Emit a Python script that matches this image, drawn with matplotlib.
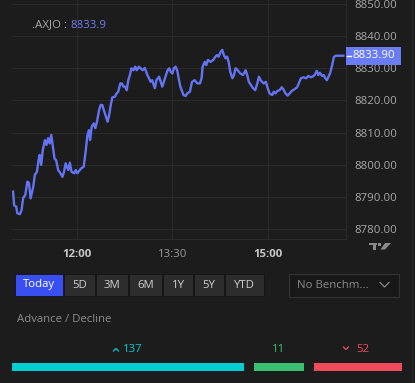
import matplotlib
matplotlib.use("Agg")
import matplotlib.pyplot as plt
from matplotlib.patches import Rectangle, Polygon
from matplotlib.transforms import blended_transform_factory

plt.rcParams["font.family"] = ["Open Sans", "DejaVu Sans"]

# --- data: minutes after 11:00, index level ---
minutes = [0, 1, 3, 4, 6.5, 8, 9.5, 11.5, 13.5, 15,
           16.5, 19, 20.5, 22.5, 24, 25, 26.5, 28, 30, 31.5,
           33, 34.5, 36, 37.5, 39, 40.5, 42.5, 45, 46.5, 48,
           49.5, 52, 53.5, 55, 57.5, 59, 60.5, 64, 66.5, 68.5,
           70, 71.5, 72.5, 74, 76, 77.5, 79, 81, 82.5, 84,
           85.5, 87.5, 89, 90.5, 92, 93.5, 96, 97.5, 99, 101,
           102.5, 104, 105.5, 107, 108.5, 110, 111.5, 113.5, 115, 116.5,
           118.5, 122, 124, 126.5, 128, 129.5, 131, 133.5, 135, 137.5,
           140.5, 142.5, 145.5, 147, 148.5, 150, 151.5, 153, 154.5, 156,
           157.5, 160.5, 162.5, 164, 166.5, 168.5, 171, 173.5, 176, 177.5,
           178.5, 180.5, 182, 183.5, 186, 188.5, 190.5, 192, 193.5, 195.5,
           197, 198.5, 200, 201.5, 203, 204.5, 206.5, 208, 209.5, 211.5,
           214, 216.5, 219, 220.5, 222, 224, 226, 228, 230, 231.5,
           233, 234.5, 236, 238, 239.5, 241.5, 244, 245.5, 247, 249,
           251, 253, 254.5, 256.5, 258.5, 260.5, 262.5, 265, 267.5, 269,
           271, 273.5, 276, 278, 280.5, 283, 284.5, 286, 287.5, 289,
           291, 292.5, 294, 295.5, 297, 298.5, 300.5, 302, 303.5, 311]
prices = [8791.7, 8787.5, 8787.0, 8785.0, 8784.7, 8786.0, 8789.7, 8790.7, 8794.8, 8794.4,
          8789.6, 8793.2, 8796.9, 8797.9, 8801.5, 8803.1, 8800.0, 8804.6, 8807.7, 8806.2,
          8808.3, 8806.7, 8809.3, 8805.6, 8802.0, 8801.5, 8798.4, 8797.2, 8796.3, 8797.9,
          8800.5, 8798.4, 8800.7, 8797.9, 8797.4, 8798.4, 8797.4, 8798.9, 8799.4, 8804.6,
          8809.3, 8810.8, 8807.7, 8811.8, 8812.9, 8811.4, 8813.4, 8817.0, 8818.6, 8818.6,
          8817.0, 8815.0, 8813.4, 8815.5, 8818.6, 8821.0, 8821.2, 8822.2, 8822.7, 8825.3,
          8825.3, 8824.3, 8824.3, 8823.2, 8826.3, 8827.9, 8830.0, 8829.4, 8830.5, 8829.4,
          8830.5, 8829.4, 8830.1, 8827.9, 8826.9, 8825.8, 8826.3, 8823.8, 8826.3, 8827.4,
          8824.3, 8826.3, 8829.4, 8830.0, 8828.9, 8828.4, 8830.0, 8830.5, 8829.4, 8826.9,
          8824.3, 8821.7, 8821.4, 8822.2, 8822.7, 8825.8, 8826.3, 8825.3, 8825.3, 8826.9,
          8830.5, 8832.0, 8831.0, 8832.6, 8832.0, 8832.6, 8833.6, 8834.1, 8833.6, 8835.1,
          8835.7, 8834.1, 8833.1, 8833.6, 8832.0, 8828.9, 8826.9, 8827.9, 8830.0, 8829.4,
          8828.4, 8827.9, 8829.4, 8827.9, 8825.8, 8824.8, 8823.8, 8823.2, 8825.3, 8827.4,
          8826.3, 8825.8, 8825.3, 8825.8, 8824.1, 8822.2, 8821.7, 8822.7, 8822.2, 8823.0,
          8823.2, 8824.1, 8823.5, 8822.2, 8821.5, 8822.2, 8823.0, 8823.5, 8824.1, 8825.3,
          8826.9, 8827.2, 8826.9, 8827.6, 8827.2, 8827.6, 8828.2, 8829.2, 8827.9, 8828.6,
          8827.6, 8827.9, 8826.9, 8826.3, 8827.4, 8828.4, 8831.0, 8833.4, 8833.9, 8833.9]

last_price = 8833.90
time_ticks = [60, 150, 240]
time_labels = ["12:00", "13:30", "15:00"]
price_ticks = [8780, 8790, 8800, 8810, 8820, 8830, 8840, 8850]

ranges = ["Today", "5D", "3M", "6M", "1Y", "5Y", "YTD"]
adv_counts = [137, 11, 52]
adv_dirs = ["up", None, "down"]
adv_colors = ["#00cdd3", "#39c171", "#f04b5c"]

BG = "#1c1c1c"
GRID = "#2b2b2b"
LINE = "#6374f3"
W, H = 415, 383
FS = 8.2

fig = plt.figure(figsize=(W / 100, H / 100), dpi=100, facecolor=BG)

# overlay in pixel coords for the UI bits
ui = fig.add_axes([0, 0, 1, 1])
ui.set_xlim(0, W)
ui.set_ylim(H, 0)
ui.axis("off")

# --- price chart ---
ax = fig.add_axes([12 / W, 1 - 239 / H, 334 / W, 239 / H])
ax.set_facecolor("none")
ax.plot(minutes, prices, color=LINE, linewidth=1.7, solid_joinstyle="round", zorder=3)
ax.set_xlim(-1, 313.5)
ax.set_ylim(8777.0, 8851.2)

ax.set_yticks(price_ticks)
ax.set_yticklabels([f"{p:.2f}" for p in price_ticks])
ax.yaxis.tick_right()
ax.tick_params(axis="y", length=0, pad=6, labelsize=FS, labelcolor="#a8a8a8")
ax.set_xticks(time_ticks)
ax.set_xticklabels(time_labels)
ax.tick_params(axis="x", length=0, pad=7, labelsize=FS)
for i, lbl in enumerate(ax.get_xticklabels()):
    if i == 1:
        lbl.set_color("#9a9a9a")
    else:
        lbl.set_color("#c8c8c8")
        lbl.set_fontweight("bold")
ax.grid(True, color=GRID, linewidth=0.8)
for s in ["top", "left"]:
    ax.spines[s].set_visible(False)
ax.spines["right"].set_color(GRID)
ax.spines["bottom"].set_color(GRID)

# last value tag
tr = blended_transform_factory(ax.transAxes, ax.transData)
ax.add_patch(Rectangle((1.0, last_price - 2.75), 55 / 334, 5.5, transform=tr,
                       facecolor="#6a7cf4", edgecolor="none", clip_on=False, zorder=5))
ax.plot([1.0 + 1 / 334, 1.0 + 5 / 334], [last_price, last_price], transform=tr,
        color="white", linewidth=1, clip_on=False, zorder=6)
ax.text(1.0 + 28 / 334, last_price, f"{last_price:.2f}", transform=tr, color="white",
        fontsize=FS, ha="center", va="center", zorder=7)

# symbol header
ui.text(32, 25, ".AXJO : ", color="#a8a8a8", fontsize=FS, va="center", ha="left")
ui.text(70, 25, f"{prices[-1]:.1f}", color="#7080f2", fontsize=FS, va="center", ha="left")

# tradingview mark
ui.add_patch(Rectangle((369, 243), 8, 2.2, color="#8a8a8a", lw=0))
ui.add_patch(Rectangle((372.5, 243), 3, 6.5, color="#8a8a8a", lw=0))
ui.add_patch(Rectangle((378.2, 243.2), 2.4, 2.4, color="#8a8a8a", lw=0))
ui.add_patch(Polygon([(385, 243), (391, 243), (385, 249.5), (380.5, 249.5)],
                     color="#8a8a8a", lw=0))

# widget border
ui.plot([412, 412], [0, H], color=GRID, linewidth=0.8)

# range buttons
edges = [15, 64, 96, 129, 163, 194, 225, 265]
for i, name in enumerate(ranges):
    x0, x1 = edges[i], edges[i + 1] - 1
    fc = "#3a4ff2" if i == 0 else "#2d2d2d"
    ui.add_patch(Rectangle((x0, 274), x1 - x0, 22, facecolor=fc, edgecolor="#141414", lw=0.6))
    ui.text((x0 + x1) / 2, 285, name, color="white" if i == 0 else "#d0d0d0",
            fontsize=FS, ha="center", va="center")

# benchmark dropdown
ui.add_patch(Rectangle((288.5, 273.5), 110, 23, facecolor="#181818", edgecolor="#333333", lw=0.8))
ui.text(297, 285, "No Benchm...", color="#8a8a8a", fontsize=FS, ha="left", va="center")
ui.plot([380, 384.5, 389], [282.5, 287, 282.5], color="#8a8a8a", linewidth=0.9)

ui.text(17, 320, "Advance / Decline", color="#8c8c8c", fontsize=FS, ha="left", va="center")

# advance / decline bars, small groups get a minimum width
x_left, x_right, gap, min_w = 12, 402, 10, 50
avail = x_right - x_left - gap * (len(adv_counts) - 1)
small = [c / sum(adv_counts) * avail < min_w for c in adv_counts]
rest = avail - min_w * sum(small)
big_total = sum(c for c, s in zip(adv_counts, small) if not s)
widths = [min_w if s else c / big_total * rest for c, s in zip(adv_counts, small)]
x = x_left
for n, d, w, col in zip(adv_counts, adv_dirs, widths, adv_colors):
    ui.add_patch(Rectangle((x, 363), w, 8, color=col, lw=0))
    cx = x + w / 2
    if d is None:
        ui.text(cx, 349, str(n), color=col, fontsize=FS, ha="center", va="center")
    else:
        ui.text(cx + 5, 349, str(n), color=col, fontsize=FS, ha="center", va="center")
        ax_ = cx - 12
        if d == "up":
            ui.plot([ax_ - 2.5, ax_, ax_ + 2.5], [351, 348.5, 351], color=col, lw=0.9)
        else:
            ui.plot([ax_ - 2.5, ax_, ax_ + 2.5], [347, 349.5, 347], color=col, lw=0.9)
    x += w + gap

fig.savefig("out.png", dpi=100, facecolor=BG)
